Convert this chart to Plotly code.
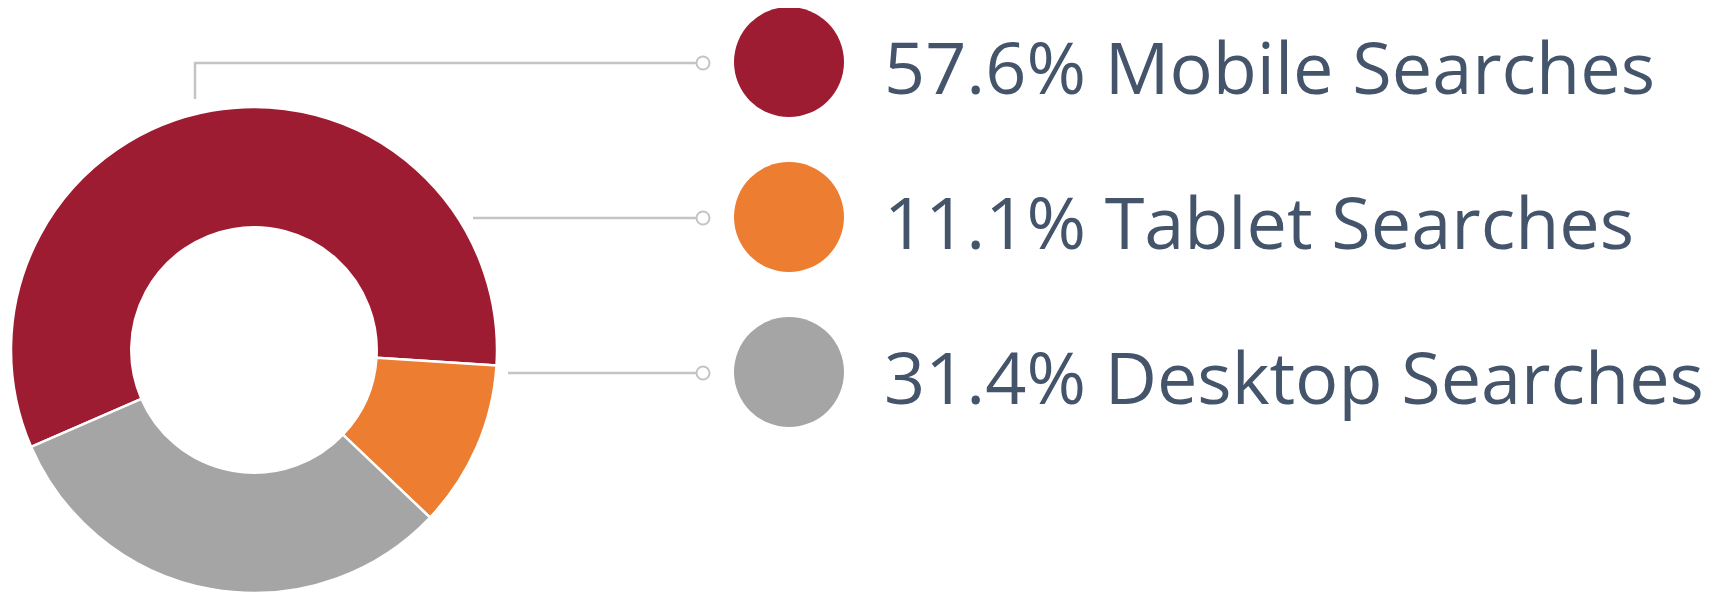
import plotly.graph_objects as go

# ---- data ----
categories = ["Mobile Searches", "Tablet Searches", "Desktop Searches"]
shares = [57.6, 11.1, 31.4]
colors = ["#9E1C31", "#ED7D31", "#A5A5A5"]

W, H = 1715, 593
OFF = 8  # default page body margin shifts the figure by 8px
TEXT_COLOR = "#44546A"
LINE_COLOR = "#C4C4C4"


def px(x):
    return (x - OFF) / W


def py(y):
    return 1 - (y - OFF) / H


fig = go.Figure()
fig.add_trace(go.Pie(
    labels=categories,
    values=shares,
    hole=0.505,
    sort=False,
    direction="clockwise",
    rotation=246.5,
    marker=dict(colors=colors, line=dict(color="white", width=2.5)),
    textinfo="none",
    hoverinfo="label+value",
    showlegend=False,
    domain=dict(x=[px(11), px(497)], y=[py(593), py(107)]),
))

shapes = []
annotations = []

# legend rows (pixel layout)
row_y = [62, 217, 372]
key_cx, key_r = 789, 55
text_x = 882
end_x = 703
dot_r = 6.5
leader_start = [None, 473, 508]

for i, (cat, val, col) in enumerate(zip(categories, shares, colors)):
    cy = row_y[i]
    # big key circle
    shapes.append(dict(type="circle", xref="paper", yref="paper",
                       x0=px(key_cx - key_r), x1=px(key_cx + key_r),
                       y0=py(cy + key_r), y1=py(cy - key_r),
                       fillcolor=col, line=dict(width=0), layer="above"))
    # leader line
    ly = cy + 1
    if i == 0:
        path = f"M {px(195)} {py(99)} L {px(195)} {py(ly)} L {px(end_x)} {py(ly)}"
        shapes.append(dict(type="path", xref="paper", yref="paper", path=path,
                           line=dict(color=LINE_COLOR, width=2.5)))
    else:
        shapes.append(dict(type="line", xref="paper", yref="paper",
                           x0=px(leader_start[i]), x1=px(end_x), y0=py(ly), y1=py(ly),
                           line=dict(color=LINE_COLOR, width=2.5)))
    # small end dot
    shapes.append(dict(type="circle", xref="paper", yref="paper",
                       x0=px(end_x - dot_r), x1=px(end_x + dot_r),
                       y0=py(ly + dot_r), y1=py(ly - dot_r),
                       fillcolor="white", line=dict(color=LINE_COLOR, width=2)))
    annotations.append(dict(
        text=f"{val}% {cat}", xref="paper", yref="paper",
        x=px(text_x), y=py(cy + 4), xanchor="left", yanchor="middle",
        showarrow=False,
        font=dict(family="Open Sans, Noto Sans, sans-serif", size=72, color=TEXT_COLOR),
    ))

fig.update_layout(
    width=W, height=H,
    margin=dict(l=0, r=0, t=0, b=0),
    paper_bgcolor="white", plot_bgcolor="white",
    shapes=shapes, annotations=annotations,
)

fig.write_html("out.html")
